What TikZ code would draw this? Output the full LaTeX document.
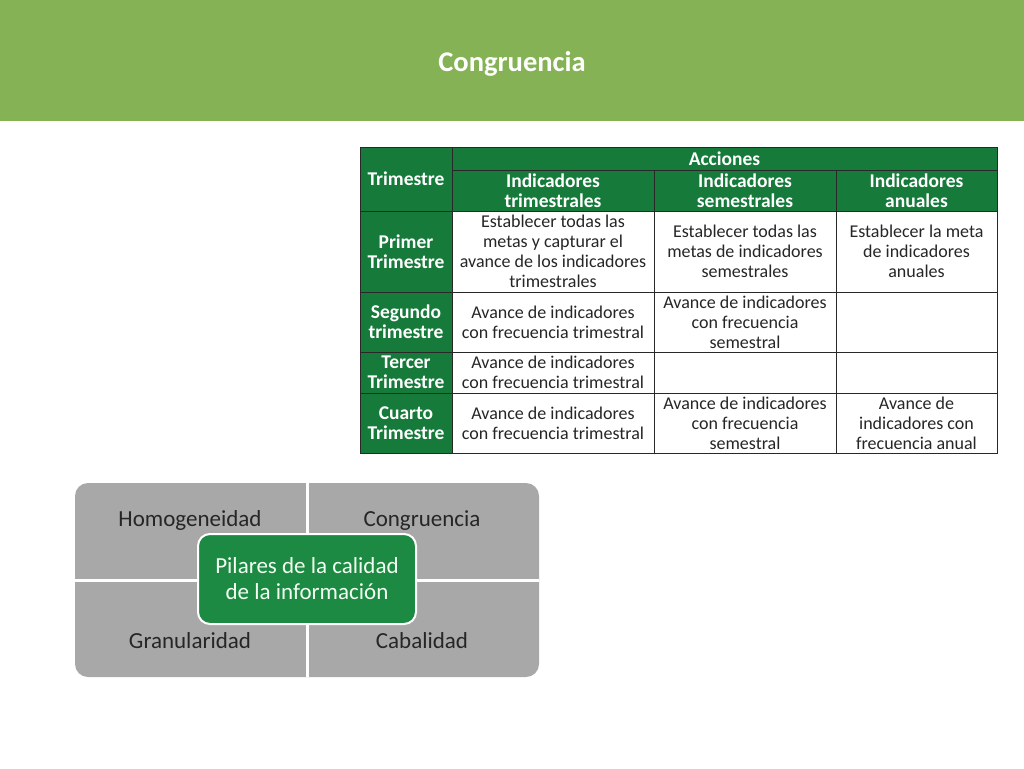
\documentclass[tikz,border=0pt]{standalone}
\usepackage{fontspec}
\setmainfont{Carlito}
\usepackage{tikz}
\definecolor{barGreen}{RGB}{132,178,84}
\definecolor{tabGreen}{RGB}{22,122,58}
\definecolor{coreGreen}{RGB}{28,138,66}
\definecolor{pilGrey}{RGB}{168,168,168}
\definecolor{gridLine}{RGB}{40,40,40}
\tikzset{
  cell/.style={draw=gridLine, line width=0.8pt, inner sep=0pt, align=center,
    font=\fontsize{18}{20}\selectfont},
  hdrcell/.style={cell, fill=tabGreen, text=white, font=\fontsize{19.5}{20}\selectfont\bfseries},
  bodycell/.style={cell, fill=white, text=black!85},
  pillar/.style={anchor=base, text=black!85, font=\fontsize{23}{26}\selectfont}
}

\begin{document}
\begin{tikzpicture}[x=1pt, y=-1pt]
    \useasboundingbox (0,0) rectangle (1024,768);
        % title bar
        \fill[barGreen] (0,0) rectangle (1024,121);
        \node[anchor=base, text=white, font=\fontsize{28.5}{32}\selectfont\bfseries] (title) at (512,71) {Congruencia};

        % table header
        \node[hdrcell, minimum width=92pt, minimum height=64pt] (trim) at (406,179) {Trimestre};
        \node[hdrcell, minimum width=545pt, minimum height=23pt] (acc) at (724.5,158.5) {Acciones};
        \node[hdrcell, minimum width=202pt, minimum height=41pt] (indtri) at (553,190.5) {Indicadores\\trimestrales};
        \node[hdrcell, minimum width=182pt, minimum height=41pt] (indsem) at (745,190.5) {Indicadores\\semestrales};
        \node[hdrcell, minimum width=161pt, minimum height=41pt] (indanu) at (916.5,190.5) {Indicadores\\anuales};

        % first quarter
        \node[hdrcell, minimum width=92pt, minimum height=81pt] (q1) at (406,251.5) {Primer\\Trimestre};
        \node[bodycell, minimum width=202pt, minimum height=81pt] (q1tri) at (553,251.5) {Establecer todas las\\metas y capturar el\\avance de los indicadores\\trimestrales};
        \node[bodycell, minimum width=182pt, minimum height=81pt] (q1sem) at (745,251.5) {Establecer todas las\\metas de indicadores\\semestrales};
        \node[bodycell, minimum width=161pt, minimum height=81pt] (q1anu) at (916.5,251.5) {Establecer la meta\\de indicadores\\anuales};

        % second quarter
        \node[hdrcell, minimum width=92pt, minimum height=60pt] (q2) at (406,322) {Segundo\\trimestre};
        \node[bodycell, minimum width=202pt, minimum height=60pt] (q2tri) at (553,322) {Avance de indicadores\\con frecuencia trimestral};
        \node[bodycell, minimum width=182pt, minimum height=60pt] (q2sem) at (745,322) {Avance de indicadores\\con frecuencia\\semestral};
        \node[bodycell, minimum width=161pt, minimum height=60pt] (q2anu) at (916.5,322) {};

        % third quarter
        \node[hdrcell, minimum width=92pt, minimum height=41pt] (q3) at (406,372.5) {Tercer\\Trimestre};
        \node[bodycell, minimum width=202pt, minimum height=41pt] (q3tri) at (553,372.5) {Avance de indicadores\\con frecuencia trimestral};
        \node[bodycell, minimum width=182pt, minimum height=41pt] (q3sem) at (745,372.5) {};
        \node[bodycell, minimum width=161pt, minimum height=41pt] (q3anu) at (916.5,372.5) {};

        % fourth quarter
        \node[hdrcell, minimum width=92pt, minimum height=60pt] (q4) at (406,423) {Cuarto\\Trimestre};
        \node[bodycell, minimum width=202pt, minimum height=60pt] (q4tri) at (553,423) {Avance de indicadores\\con frecuencia trimestral};
        \node[bodycell, minimum width=182pt, minimum height=60pt] (q4sem) at (745,423) {Avance de indicadores\\con frecuencia\\semestral};
        \node[bodycell, minimum width=161pt, minimum height=60pt] (q4anu) at (916.5,423) {Avance de\\indicadores con\\frecuencia anual};

        % pillars
        \node[fill=pilGrey, rounded corners=13pt, minimum width=464pt, minimum height=194pt] (pil) at (307,580) {};
        \draw[white, line width=3pt] (pil.north) -- (pil.south);
        \draw[white, line width=3pt] (pil.west) -- (pil.east);
        \node[pillar] (homo) at (190,526) {Homogeneidad};
        \node[pillar] (cong) at (422,526) {Congruencia};
        \node[pillar] (gran) at (190,648) {Granularidad};
        \node[pillar] (caba) at (422,648) {Cabalidad};
        \node[fill=coreGreen, draw=white, line width=2pt, rounded corners=12pt, minimum width=218pt, minimum height=90pt,
              align=center, text=green!5, font=\fontsize{23}{26}\selectfont] (core) at (307,579) {Pilares de la calidad\\de la información};
    \end{tikzpicture}
\end{document}
